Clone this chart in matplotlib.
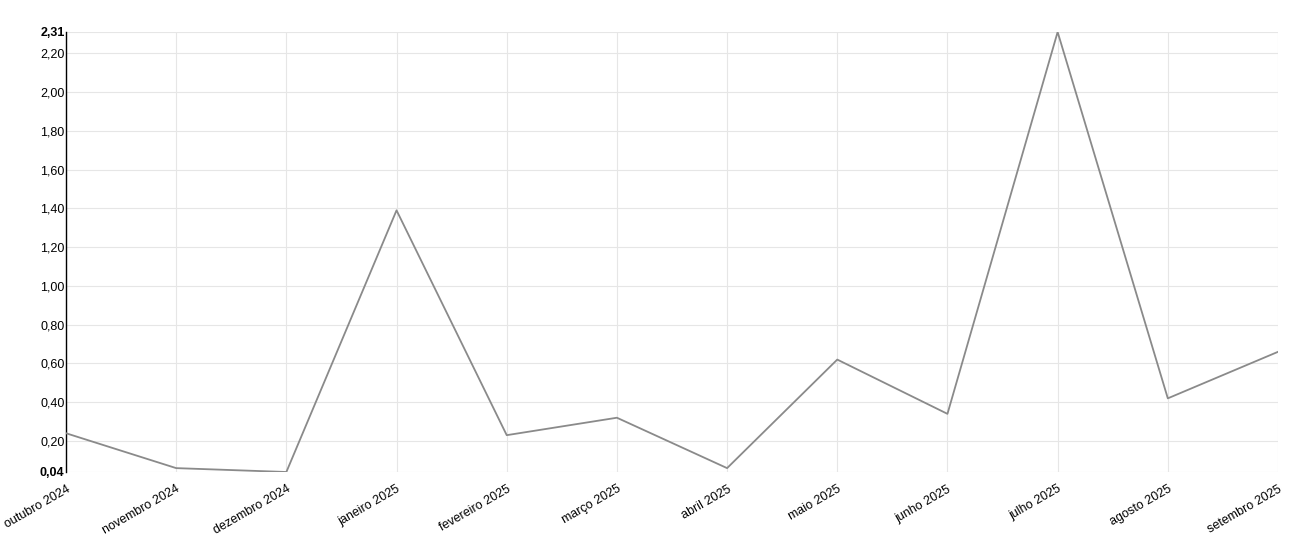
import matplotlib
matplotlib.use("Agg")
import matplotlib.pyplot as plt

months = ["outubro 2024", "novembro 2024", "dezembro 2024", "janeiro 2025",
          "fevereiro 2025", "março 2025", "abril 2025", "maio 2025",
          "junho 2025", "julho 2025", "agosto 2025", "setembro 2025"]
values = [0.24, 0.06, 0.04, 1.39, 0.23, 0.32, 0.06, 0.62, 0.34, 2.31, 0.42, 0.66]
y_ticks = [0.20, 0.40, 0.60, 0.80, 1.00, 1.20, 1.40, 1.60, 1.80, 2.00, 2.20]
y_min, y_max = 0.04, 2.31

plt.rcParams['font.family'] = ['Liberation Sans', 'DejaVu Sans']

fig = plt.figure(figsize=(13.02, 5.58), dpi=100)
ax = fig.add_axes([66/1302, 1 - 472/558, (1278-66)/1302, (472-32)/558])

x = list(range(len(months)))
ax.plot(x, values, color="#8a8a8a", linewidth=1.3, zorder=3)

ax.set_xlim(0, len(months) - 1)
ax.set_ylim(y_min, y_max)

def fmt(v):
    return f"{v:.2f}".replace(".", ",")

ax.set_yticks([y_min] + y_ticks + [y_max])
ax.set_yticklabels([fmt(v) for v in [y_min] + y_ticks + [y_max]], fontsize=9)
for lbl in (ax.get_yticklabels()[0], ax.get_yticklabels()[-1]):
    lbl.set_fontweight("bold")

ax.set_xticks(x)
ax.set_xticklabels(months, rotation=30, ha="right", rotation_mode="anchor", fontsize=9)

ax.grid(True, color="#e6e6e6", linewidth=0.8, zorder=0)
ax.tick_params(axis="y", length=0, pad=1)
ax.tick_params(axis="x", length=0, pad=8)

for s in ["top", "right", "bottom"]:
    ax.spines[s].set_visible(False)
ax.spines["left"].set_color("#000000")
ax.spines["left"].set_linewidth(1)

fig.savefig("out.png", dpi=100)
